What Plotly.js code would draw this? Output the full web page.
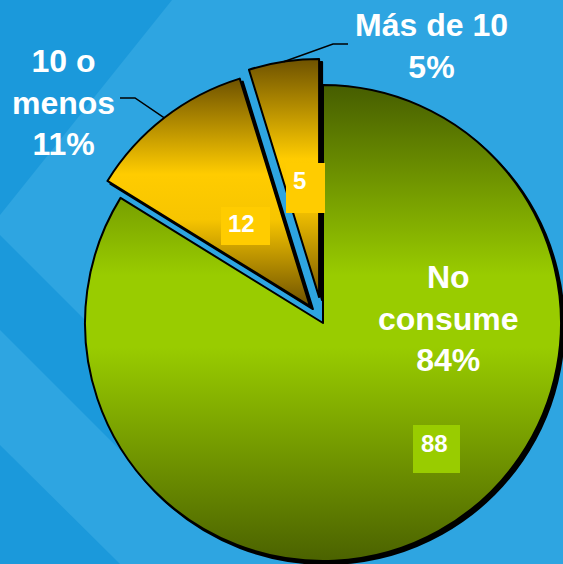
<!DOCTYPE html>
<html><head><meta charset="utf-8">
<script src="https://cdn.plot.ly/plotly-3.0.1.min.js"></script>
<style>
html,body{margin:0;padding:0;overflow:hidden;background:#2ea5e1;}
#chart{position:absolute;left:0;top:0;width:640px;height:600px;}
</style>
</head><body><div id="chart"></div>
<script>
// ---- data ----
const categories = ["No consume", "10 o menos", "Más de 10"];
const categoryLines = ["No<br>consume", "10 o<br>menos", "Más de 10"];
const counts = [88, 12, 5];
const sliceColors = ["#99cc00", "#ffcc00", "#ffcc00"];
const pulls = [0, 0.09, 0.11];

// ---- geometry / layout constants (pixels) ----
const W = 640, H = 600;
const CX = 323, CY = 323, R = 238;
const maxPull = Math.max(...pulls);
const half = R * (1 + maxPull);
const px = x => x / W, py = y => 1 - y / H;

const total = counts.reduce((a, b) => a + b, 0);
const pct = counts.map(v => Math.round(v / total * 100));
let acc = 0;
const mids = counts.map(v => { const a0 = acc / total * 360; acc += v; const a1 = acc / total * 360; return (a0 + a1) / 2; });
function sliceCenter(i) { const m = mids[i] * Math.PI / 180; return [CX + pulls[i] * R * Math.sin(m), CY - pulls[i] * R * Math.cos(m)]; }
function arcPoint(i) { const c = sliceCenter(i); const m = mids[i] * Math.PI / 180; return [c[0] + R * Math.sin(m), c[1] - R * Math.cos(m)]; }

const FONT = "Liberation Sans, Arial, sans-serif";
const labelPos = [[448, 318], [63, 102], [431, 46]];
const leaderElbow = [null, [[135, 98], [120, 98]], [[333, 44], [348, 44]]];
const boxRects = [[413, 425, 460, 473], [221, 207, 270, 245], [286, 163, 325, 213]];
const boxText = [[434, 443], [241.5, 224], [299.5, 180]];
const boxColors = ["#99cc00", "#ffcc00", "#ffcc00"];

const shapes = [];
// background stripes
const bgPolys = [
  [[0,0],[172,0],[0,215]],
  [[0,235],[0,330],[125,455],[125,360]],
  [[0,445],[0,564],[120,564]]
];
bgPolys.forEach(p => shapes.push({type:'path', xref:'paper', yref:'paper', layer:'below', line:{width:0}, fillcolor:'#1b99db',
  path: 'M' + p.map(q => px(q[0]) + ',' + py(q[1])).join(' L') + ' Z'}));
// leader lines
leaderElbow.forEach((e, i) => {
  if (!e) return;
  const t = arcPoint(i);
  const pts = [t, e[0], e[1]];
  shapes.push({type:'path', xref:'paper', yref:'paper', layer:'above', line:{color:'#000', width:1.5},
    path: 'M' + pts.map(q => px(q[0]) + ',' + py(q[1])).join(' L')});
});
// value boxes
boxRects.forEach((b, i) => shapes.push({type:'rect', xref:'paper', yref:'paper', layer:'above', line:{width:0}, fillcolor:boxColors[i],
  x0:px(b[0]), x1:px(b[2]), y0:py(b[3]), y1:py(b[1])}));

const annotations = [];
categories.forEach((c, i) => {
  annotations.push({xref:'paper', yref:'paper', x:px(labelPos[i][0]), y:py(labelPos[i][1]), xanchor:'center', yanchor:'middle',
    showarrow:false, align:'center', text: categoryLines[i] + '<br>' + pct[i] + '%',
    font:{family:FONT, size:32, color:'#ffffff', weight:'bold'}});
  annotations.push({xref:'paper', yref:'paper', x:px(boxText[i][0]), y:py(boxText[i][1]), xanchor:'center', yanchor:'middle',
    showarrow:false, text: String(counts[i]), font:{family:FONT, size:24, color:'#ffffff', weight:'bold'}});
});

const data = [{
  type:'pie', values: counts, labels: categories, sort:false, direction:'clockwise', rotation:0,
  pull: pulls, marker:{colors: sliceColors, line:{color:'#000000', width:2}},
  textinfo:'none', hoverinfo:'none', showlegend:false,
  domain:{x:[px(CX - half), px(CX + half)], y:[py(CY + half), py(CY - half)]}
}];
const layout = {width:W, height:H, margin:{l:0,r:0,t:0,b:0}, paper_bgcolor:'#2ea5e1', plot_bgcolor:'rgba(0,0,0,0)',
  showlegend:false, shapes, annotations};

const gradStops = [
  [[0,'#465d00'],[0.40,'#99cc00'],[0.55,'#99cc00'],[1,'#4b6200']],
  [[0,'#6e5200'],[0.42,'#ffcc00'],[0.62,'#f7c500'],[1,'#6e5200']],
  [[0,'#6e5200'],[0.42,'#ffcc00'],[0.62,'#f7c500'],[1,'#7a5a00']]
];
Plotly.newPlot('chart', data, layout, {staticPlot:true, displayModeBar:false}).then(gd => {
  const ns = 'http://www.w3.org/2000/svg';
  const svg = gd.querySelector('svg.main-svg');
  let defs = svg.querySelector('defs');
  if (!defs) { defs = document.createElementNS(ns, 'defs'); svg.insertBefore(defs, svg.firstChild); }
  gradStops.forEach((stops, i) => {
    const g = document.createElementNS(ns, 'linearGradient');
    g.setAttribute('id', 'sliceGrad' + i);
    g.setAttribute('x1', '0'); g.setAttribute('y1', '0'); g.setAttribute('x2', '0'); g.setAttribute('y2', '1');
    stops.forEach(s => { const st = document.createElementNS(ns, 'stop'); st.setAttribute('offset', s[0]); st.setAttribute('stop-color', s[1]); g.appendChild(st); });
    defs.appendChild(g);
  });
  gd.querySelectorAll('g.slice path.surface').forEach((p, i) => {
    // dark offset edge (3D shadow look) behind each slice
    const sh = p.cloneNode(false);
    sh.removeAttribute('class');
    sh.style.fill = '#000000';
    sh.style.stroke = '#000000';
    sh.style.strokeWidth = '2px';
    sh.setAttribute('transform', 'translate(3,3)');
    p.parentNode.insertBefore(sh, p);
    p.style.fill = 'url(#sliceGrad' + i + ')';
  });
});
</script>
</body></html>
